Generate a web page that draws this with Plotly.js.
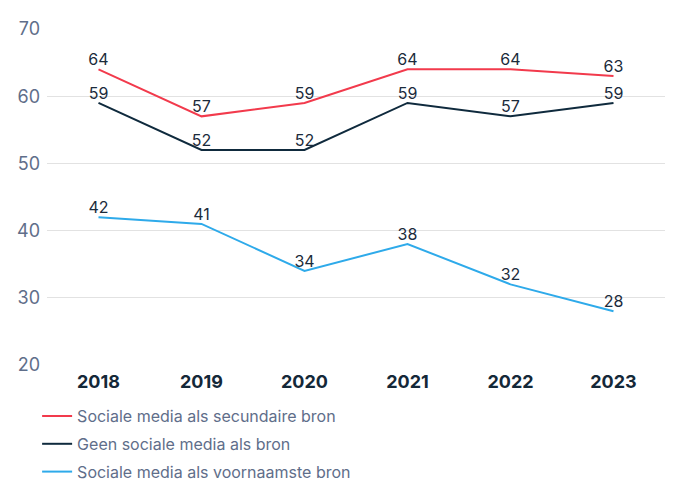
<!DOCTYPE html>
<html><head><meta charset="utf-8">
<script src="https://cdn.plot.ly/plotly-3.0.1.min.js"></script>
<style>body{margin:0;padding:0;background:#fff}#chart{width:676px;height:482px}</style>
</head><body><div id="chart"></div>
<script>
const years = ['2018','2019','2020','2021','2022','2023'];
const secundair = [64,57,59,64,64,63];
const geen = [59,52,52,59,57,59];
const voornaamste = [42,41,34,38,32,28];
const names = ['Sociale media als secundaire bron','Geen sociale media als bron','Sociale media als voornaamste bron'];
const colors = ['#f23a4c','#0f2a3d','#2eaaea'];
const series = [secundair, geen, voornaamste];
const FONT = 'Inter, "Open Sans", sans-serif';
const traces = series.map((s,i)=>({
  x: years, y: s, name: names[i], type:'scatter', mode:'lines+text',
  text: s.map(String), textposition:'top center',
  textfont:{family:FONT,size:16,color:'#1b2b3b'},
  line:{color:colors[i],width:2}, legendgroup:'g'+i, cliponaxis:false
}));
const layout = {
  width:676, height:482,
  margin:{l:47,r:11,t:29,b:117},
  paper_bgcolor:'#fff', plot_bgcolor:'#fff',
  font:{family:FONT},
  showlegend:true,
  legend:{x:-0.016,xanchor:'left',xref:'paper',y:0.172,yref:'container',yanchor:'top',orientation:'v',
    font:{family:FONT,size:16,color:'#5f6e8a'},tracegroupgap:4,bgcolor:'rgba(0,0,0,0)'},
  xaxis:{type:'category',range:[-0.5,5.5],showgrid:false,zeroline:false,showline:false,ticks:'',
    tickfont:{family:FONT,size:18,color:'#142838',weight:'bold'},ticklabelstandoff:4},
  yaxis:{range:[20,70],dtick:10,tick0:20,showgrid:true,gridcolor:'#e2e2e2',gridwidth:1,zeroline:false,
    showline:false,ticks:'',tickfont:{family:FONT,size:18,color:'#5f6e8a'},ticklabelstandoff:6}
};
Plotly.newPlot('chart',traces,layout,{displayModeBar:false,staticPlot:true});
</script></body></html>
